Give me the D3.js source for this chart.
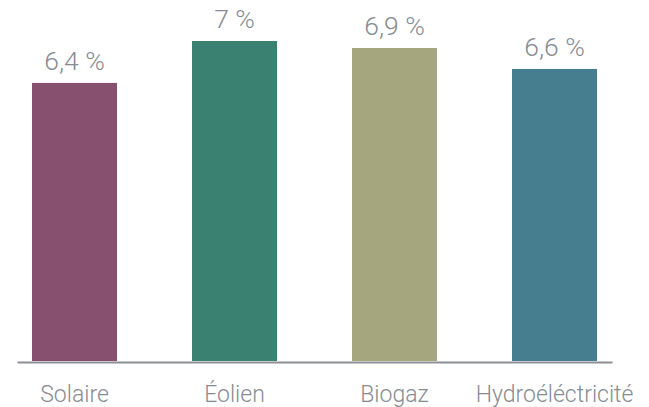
<!DOCTYPE html>
<html>
<head>
<meta charset="utf-8">
<script src="https://cdn.jsdelivr.net/npm/d3@7"></script>
<style>
	body { margin: 0; background: #fff; }
	text { font-family: Roboto, "Noto Sans", sans-serif; font-weight: 300; fill: #878c93; }
</style>
</head>
<body>
<div id="root"></div>
<script>
const categories = ["Solaire", "Éolien", "Biogaz", "Hydroéléctricité"];
const values = [6.4, 7, 6.9, 6.6];
const labels = ["6,4 %", "7 %", "6,9 %", "6,6 %"];
const colors = ["#87506f", "#3a8172", "#a5a67d", "#467e90"];

const width = 649;
const height = 407;
const baseY = 361;

const chart = d3.select("#root").append("svg")
	.attr("width", width)
	.attr("height", height);

const x = d3.scaleBand()
	.domain(categories)
	.range([17, 612])
	.paddingInner(0.46875)
	.paddingOuter(0.09375);

// the scale does not start at zero in the original
const y = d3.scaleLinear()
	.domain([2.42, 7])
	.range([baseY, 41]);

chart.selectAll("rect.bar")
	.data(values)
	.enter()
	.append("rect")
	.attr("class", "bar")
	.attr("x", (d, i) => x(categories[i]))
	.attr("y", d => y(d))
	.attr("width", x.bandwidth())
	.attr("height", d => baseY - y(d))
	.attr("fill", (d, i) => colors[i]);

chart.selectAll("text.value")
	.data(values)
	.enter()
	.append("text")
	.attr("class", "value")
	.attr("x", (d, i) => x(categories[i]) + x.bandwidth() / 2)
	.attr("y", d => y(d) - 13)
	.attr("text-anchor", "middle")
	.style("font-size", "26.5px")
	.text((d, i) => labels[i]);

const xAxis = d3.axisBottom(x).tickSize(0).tickPadding(24);
const gx = chart.append("g")
	.attr("transform", "translate(0," + (baseY + 1) + ")")
	.call(xAxis);
gx.select(".domain").attr("stroke", "#8d9095").attr("stroke-width", 2);
gx.selectAll("text")
	.style("font-size", "23px")
	.attr("fill", null);
</script>
</body>
</html>
